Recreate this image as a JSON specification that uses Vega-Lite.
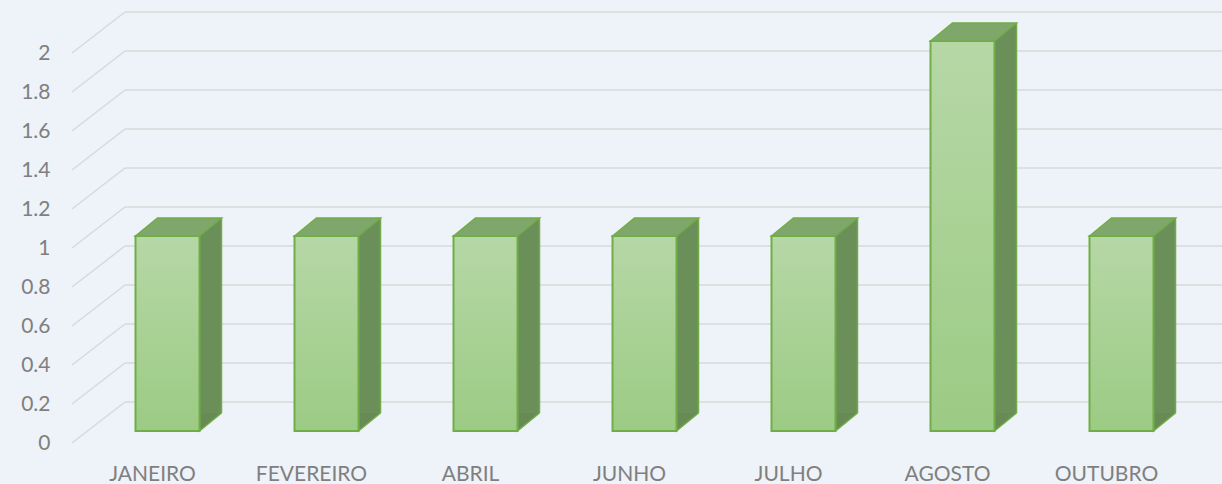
{
  "$schema": "https://vega.github.io/schema/vega-lite/v6.json",
  "width": 1097,
  "height": 390,
  "autosize": {"type": "none"},
  "padding": {"left": 125, "top": 12, "right": 0, "bottom": 82},
  "background": "#eef2f9",
  "config": {
    "view": {"stroke": null},
    "axis": {"labelFont": "Lato", "labelFontSize": 21, "labelColor": "#7f7f7f"},
    "axisX": {"title": null, "domain": false, "ticks": false, "tickSize": 0, "labelPadding": 61, "labelAngle": 0, "grid": false},
    "axisY": {"title": null, "domain": false, "ticks": false, "tickSize": 0, "labelPadding": 75, "labelOffset": 41, "format": "~g", "grid": false, "tickCount": 10, "labelOverlap": false}
  },
  "data": {
    "values": [
      {"month": "JANEIRO", "value": 1},
      {"month": "FEVEREIRO", "value": 1},
      {"month": "ABRIL", "value": 1},
      {"month": "JUNHO", "value": 1},
      {"month": "JULHO", "value": 1},
      {"month": "AGOSTO", "value": 2},
      {"month": "OUTUBRO", "value": 1}
    ]
  },
  "layer": [
    {
      "data": {"values": [{"t": 0}, {"t": 0.2}, {"t": 0.4}, {"t": 0.6}, {"t": 0.8}, {"t": 1}, {"t": 1.2}, {"t": 1.4}, {"t": 1.6}, {"t": 1.8}, {"t": 2}]},
      "layer": [
        {
          "mark": {"type": "rule", "color": "#d9d9d9", "strokeWidth": 1.5, "yOffset": 41},
          "encoding": {
            "x": {"value": -53},
            "x2": {"value": 0},
            "y": {"field": "t", "type": "quantitative", "title": null, "scale": {"domain": [0, 2], "nice": false}},
            "y2": {"field": "t"}
          }
        },
        {
          "mark": {"type": "rule", "color": "#d9d9d9", "strokeWidth": 1.5},
          "encoding": {
            "y": {"field": "t", "type": "quantitative", "title": null}
          }
        }
      ]
    },
    {
      "mark": {"type": "bar", "width": 22, "xOffset": 58, "yOffset": 11, "y2Offset": 11, "fill": "#6b8f59"},
      "encoding": {
        "x": {"field": "month", "type": "nominal", "sort": null, "title": null},
        "y": {"field": "value", "type": "quantitative", "title": null},
        "y2": {"datum": 0}
      }
    },
    {
      "mark": {"type": "point", "shape": "M0,-18L0,0L22,-18", "size": 4, "xOffset": 47, "yOffset": 29, "filled": true, "fill": "#688b56", "stroke": "#70ad47", "strokeWidth": 1.5, "opacity": 1},
      "encoding": {
        "x": {"field": "month", "type": "nominal", "sort": null, "title": null},
        "y": {"datum": 0, "type": "quantitative", "title": null}
      }
    },
    {
      "mark": {"type": "rule", "xOffset": 69, "yOffset": 11, "y2Offset": 11, "color": "#70ad47", "strokeWidth": 1.5},
      "encoding": {
        "x": {"field": "month", "type": "nominal", "sort": null, "title": null},
        "y": {"field": "value", "type": "quantitative", "title": null},
        "y2": {"datum": 0}
      }
    },
    {
      "mark": {
        "type": "bar", "width": 64, "xOffset": 15, "yOffset": 29, "y2Offset": 29,
        "stroke": "#70ad47", "strokeWidth": 2,
        "fill": {"gradient": "linear", "x1": 0, "y1": 0, "x2": 0, "y2": 1, "stops": [{"offset": 0, "color": "#b6d7a6"}, {"offset": 1, "color": "#9ccb84"}]}
      },
      "encoding": {
        "x": {
          "field": "month", "type": "nominal", "sort": null, "title": null,
          "scale": {"type": "band", "range": [-52, 1061], "paddingInner": 0, "paddingOuter": 0}
        },
        "y": {
          "field": "value", "type": "quantitative", "title": null,
          "scale": {"domain": [0, 2], "nice": false}
        },
        "y2": {"datum": 0}
      }
    },
    {
      "mark": {"type": "point", "shape": "M-32,0L-10,-18L54,-18L32,0Z", "size": 4, "xOffset": 15, "yOffset": 29, "filled": true, "fill": "#80a76b", "stroke": "#70ad47", "strokeWidth": 1.5, "opacity": 1},
      "encoding": {
        "x": {"field": "month", "type": "nominal", "sort": null, "title": null},
        "y": {"field": "value", "type": "quantitative", "title": null}
      }
    }
  ]
}
